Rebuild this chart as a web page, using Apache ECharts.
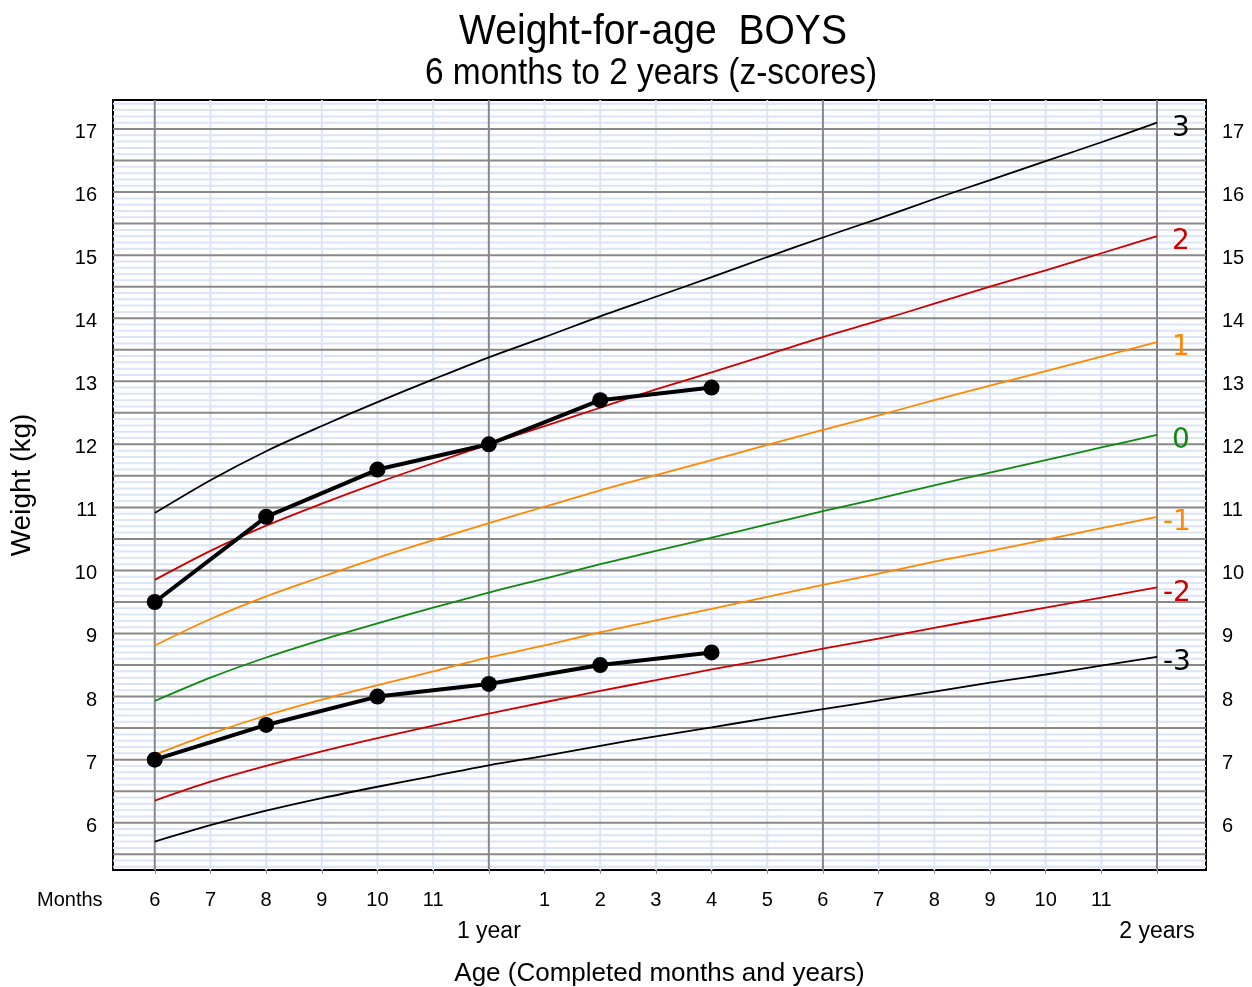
<!DOCTYPE html>
<html>
<head>
<meta charset="utf-8">
<script src="https://cdn.jsdelivr.net/npm/echarts@6/dist/echarts.min.js"></script>
<style>
  html, body { margin: 0; padding: 0; background: #fff; }
  #chart { width: 1252px; height: 987px; }
</style>
</head>
<body>
<div id="chart"></div>
<script>
// ---- data ----
const months = [6,7,8,9,10,11,12,13,14,15,16,17,18,19,20,21,22,23,24];
const zNeg3 = [5.70,5.96,6.19,6.39,6.57,6.74,6.91,7.06,7.22,7.37,7.51,7.66,7.80,7.94,8.08,8.22,8.35,8.49,8.63];
const zNeg2 = [6.35,6.65,6.90,7.13,7.34,7.54,7.73,7.91,8.09,8.26,8.43,8.59,8.76,8.92,9.09,9.25,9.41,9.57,9.73];
const zNeg1 = [7.08,7.41,7.70,7.95,8.18,8.40,8.62,8.81,9.02,9.21,9.39,9.58,9.77,9.95,10.14,10.31,10.49,10.67,10.85];
const z0    = [7.93,8.30,8.62,8.90,9.16,9.41,9.65,9.87,10.10,10.31,10.52,10.73,10.94,11.14,11.35,11.55,11.75,11.95,12.15];
const z1    = [8.81,9.23,9.59,9.90,10.20,10.48,10.75,11.01,11.27,11.51,11.75,11.99,12.23,12.46,12.70,12.93,13.16,13.39,13.62];
const z2    = [9.85,10.31,10.71,11.06,11.39,11.70,12.00,12.29,12.58,12.87,13.14,13.42,13.70,13.96,14.23,14.50,14.76,15.03,15.30];
const z3    = [10.91,11.43,11.89,12.29,12.67,13.03,13.38,13.70,14.03,14.34,14.65,14.97,15.28,15.58,15.89,16.19,16.49,16.79,17.10];

const visitMonths = [6,8,10,12,14,16];
const childHigh = [9.5,10.85,11.6,12.0,12.7,12.9];
const childLow  = [7.0,7.55,8.0,8.2,8.5,8.7];

const weightTicks = [6,7,8,9,10,11,12,13,14,15,16,17];
const monthTicks = [6,7,8,9,10,11,12,13,14,15,16,17,18,19,20,21,22,23,24];
const yearTicks = [12,24];
const yearLabels = {12: '1 year', 24: '2 years'};

// ---- axis extents ----
const X_MIN = 5.25, X_MAX = 24.88;
const Y_MIN = 5.25, Y_MAX = 17.46;
const LABEL_SHIFT = 0.055; // tick labels sit slightly below their grid line

// gridline positions (tenths of a kg, months)
const hMinor = [], hMajor = [];
for (let i = 53; i <= 174; i++) {
  const v = i / 10;
  if (i % 5 === 0) hMajor.push(v); else hMinor.push(v);
}
const vMinor = monthTicks.filter(m => m % 6 !== 0);
const vMajor = monthTicks.filter(m => m % 6 === 0);

const gridData = (list, dir) => list.map(v => [v, dir]);

function renderGrid(color, width) {
  return function (params, api) {
    const v = api.value(0);
    const dir = api.value(1);
    let p1, p2;
    if (dir === 0) { p1 = api.coord([X_MIN, v]); p2 = api.coord([X_MAX, v]); }
    else { p1 = api.coord([v, Y_MIN]); p2 = api.coord([v, Y_MAX]); }
    return {
      type: 'line',
      shape: { x1: p1[0], y1: p1[1], x2: p2[0], y2: p2[1] },
      style: { stroke: color, lineWidth: width }
    };
  };
}

const curves = [
  { name: '3',  data: z3,    color: '#000000' },
  { name: '2',  data: z2,    color: '#cc0000' },
  { name: '1',  data: z1,    color: '#ff8800' },
  { name: '0',  data: z0,    color: '#118811' },
  { name: '-1', data: zNeg1, color: '#ff8800' },
  { name: '-2', data: zNeg2, color: '#cc0000' },
  { name: '-3', data: zNeg3, color: '#000000' }
];

const FONT = 'Liberation Sans, Arial, sans-serif';

const chart = echarts.init(document.getElementById('chart'), null, { renderer: 'canvas' });

const series = [
  {
    type: 'custom', silent: true, z: 1, xAxisIndex: 0, yAxisIndex: 0,
    renderItem: renderGrid('#dbe5f5', 2),
    data: gridData(hMinor, 0).concat(gridData(vMinor, 1)),
    animation: false
  },
  {
    type: 'custom', silent: true, z: 2, xAxisIndex: 0, yAxisIndex: 0,
    renderItem: renderGrid('#888888', 2),
    data: gridData(hMajor, 0).concat(gridData(vMajor, 1)),
    animation: false
  }
];

curves.forEach(c => {
  series.push({
    type: 'line',
    name: c.name,
    z: 3, xAxisIndex: 0, yAxisIndex: 0,
    smooth: 0.3,
    showSymbol: false,
    symbol: 'none',
    silent: true,
    lineStyle: { color: c.color, width: 1.8 },
    data: months.map((m, i) => [m, c.data[i]]),
    endLabel: {
      show: true,
      formatter: c.name,
      color: c.color,
      fontSize: 28,
      fontFamily: 'DejaVu Sans, sans-serif',
      distance: 0,
      offset: [c.name.length === 1 ? 15 : 6, 6]
    },
    animation: false
  });
});

[childHigh, childLow].forEach(arr => {
  series.push({
    type: 'line',
    z: 5, xAxisIndex: 0, yAxisIndex: 0,
    symbol: 'circle',
    symbolSize: 16,
    showSymbol: true,
    itemStyle: { color: '#000' },
    lineStyle: { color: '#000', width: 4 },
    data: visitMonths.map((m, i) => [m, arr[i]]),
    animation: false
  });
});

const yLabelAxis = (pos) => ({
  type: 'value', min: Y_MIN + LABEL_SHIFT, max: Y_MAX + LABEL_SHIFT, position: pos,
  axisLine: { show: false }, axisTick: { show: false }, splitLine: { show: false },
  axisLabel: { customValues: weightTicks, margin: 16, fontSize: 20, fontFamily: FONT, color: '#000' }
});

chart.setOption({
  animation: false,
  backgroundColor: '#ffffff',
  grid: {
    left: 113, right: 46, top: 100, bottom: 117,
    containLabel: false, outerBoundsMode: 'none',
    show: true, borderColor: '#000', borderWidth: 2, backgroundColor: '#fff'
  },
  graphic: [
    { type: 'text', x: 653, y: 32, scaleX: 0.93,
      style: { text: 'Weight-for-age  BOYS', x: 0, y: 0, textAlign: 'center', textVerticalAlign: 'middle',
               fontSize: 42, fontFamily: FONT, fill: '#000' } },
    { type: 'text', x: 651, y: 74, scaleX: 0.93,
      style: { text: '6 months to 2 years (z-scores)', x: 0, y: 0, textAlign: 'center', textVerticalAlign: 'middle',
               fontSize: 36, fontFamily: FONT, fill: '#000' } },
    { type: 'text', left: 37, top: 890,
      style: { text: 'Months', fontSize: 20, fontFamily: FONT, fill: '#000' } }
  ],
  xAxis: [
    {
      type: 'value', min: X_MIN, max: X_MAX,
      name: 'Age (Completed months and years)', nameLocation: 'middle', nameGap: 91,
      nameTextStyle: { fontSize: 26, fontFamily: FONT, color: '#000' },
      axisLine: { show: true, lineStyle: { color: '#000', width: 2 } },
      axisTick: { show: true, customValues: monthTicks, length: 4, lineStyle: { color: '#999' } },
      splitLine: { show: false },
      axisLabel: {
        customValues: monthTicks, margin: 20, fontSize: 20, fontFamily: FONT, color: '#000',
        formatter: v => (v === 12 || v === 24) ? '' : String(v > 12 ? v - 12 : v)
      }
    },
    {
      type: 'value', min: X_MIN, max: X_MAX, position: 'bottom',
      axisLine: { show: false }, axisTick: { show: false }, splitLine: { show: false },
      axisLabel: {
        customValues: yearTicks, margin: 50, fontSize: 23, fontFamily: FONT, color: '#000',
        formatter: v => yearLabels[v] || ''
      }
    }
  ],
  yAxis: [
    {
      type: 'value', min: Y_MIN, max: Y_MAX, position: 'left',
      name: 'Weight (kg)', nameLocation: 'middle', nameGap: 77, nameRotate: 90,
      nameTextStyle: { fontSize: 28, fontFamily: FONT, color: '#000' },
      axisLine: { show: false }, axisTick: { show: false }, splitLine: { show: false },
      axisLabel: { show: false }
    },
    yLabelAxis('left'),
    yLabelAxis('right')
  ],
  series: series
});
</script>
</body>
</html>
